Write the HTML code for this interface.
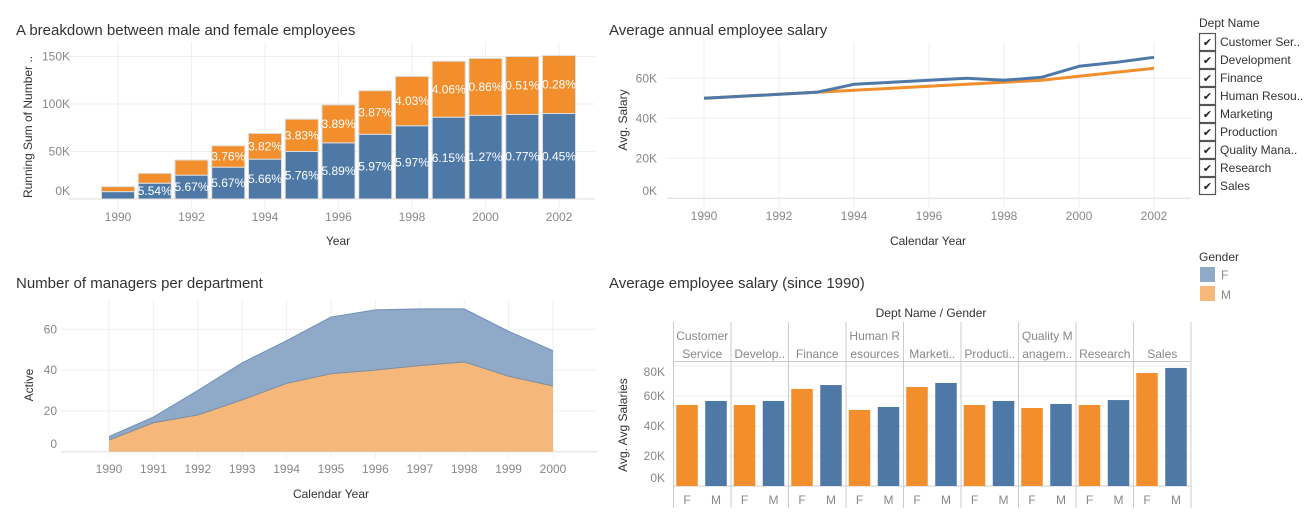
<!DOCTYPE html>
<html><head><meta charset="utf-8"><style>
html,body{margin:0;padding:0;background:#fff;}
svg{display:block;font-family:"Liberation Sans",sans-serif;}
</style></head><body>
<svg id="dash" width="1315" height="520" viewBox="0 0 1315 520" xmlns="http://www.w3.org/2000/svg"></svg>
<script>
// Chart 1 data
const barYears=[1990,1991,1992,1993,1994,1995,1996,1997,1998,1999,2000,2001,2002];
const barTotal=[13,27,41,56,69,84,99,114,129,145,148,150,151];
const barBlue=[7.7,16.5,25,33.4,41.8,50,59,68,77,86,88,89,90];
const blueLabels=['','5.54%','5.67%','5.67%','5.66%','5.76%','5.89%','5.97%','5.97%','6.15%','1.27%','0.77%','0.45%'];
const orangeLabels=['','','','3.76%','3.82%','3.83%','3.89%','3.87%','4.03%','4.06%','0.86%','0.51%','0.28%'];
const barTicks=[0,50,100,150];
// Chart 2 data
const lineYears=[1990,1991,1992,1993,1994,1995,1996,1997,1998,1999,2000,2001,2002];
const lineBlue=[50,51,52,53,57,58,59,60,59,60.5,66,68,70.5];
const lineOrange=[50,51,52,53,54,55,56,57,58,59,61,63,65];
const lineTicks=[0,20,40,60];
const lineYearTicks=[1990,1992,1994,1996,1998,2000,2002];
// Chart 3 data
const areaYears=[1990,1991,1992,1993,1994,1995,1996,1997,1998,1999,2000];
const areaTotal=[7.4,17,30,43.6,54.4,66,69.5,70,70,59,49.5];
const areaOrange=[5.7,14.2,18,25.4,33.5,38.2,40,42.2,44,37,32.2];
const areaTicks=[0,20,40,60];
// Chart 4 data
const depts=[['Customer','Service'],['','Develop..'],['','Finance'],['Human R','esources'],['','Marketi..'],['','Producti..'],['Quality M','anagem..'],['','Research'],['','Sales']];
const salF=[54,54,64.7,50.7,66,54,52,54,75.3];
const salM=[56.7,56.7,67.3,52.7,68.7,56.7,54.7,57.3,78.7];
const salTicks=[0,20,40,60,80];
// Legend
const deptLegend=['Customer Ser..','Development','Finance','Human Resou..','Marketing','Production','Quality Mana..','Research','Sales'];

const svg=document.getElementById('dash');
const NS='http://www.w3.org/2000/svg';
function mk(tag,attrs,text){const e=document.createElementNS(NS,tag);for(const k in attrs)e.setAttribute(k,attrs[k]);if(text!==undefined)e.textContent=text;svg.appendChild(e);return e;}
let el;
const BLUE='#4e79a7',ORANGE='#f28e2b',GRID='#efefef',TICK='#888',DARK='#333';

// ===== Chart 1 =====
const x1=y=>118+(y-1990)*36.75, y1=v=>199-v*0.95;
el=mk('text',{x:16,y:35,'font-size':15,fill:DARK},'A breakdown between male and female employees');


barTicks.forEach(t=>{
 el=mk('line',{x1:68,x2:595,y1:y1(t),y2:y1(t),stroke:t===0?'#ddd':GRID});
 
 
 el=mk('text',{x:70,y:t===0?195:y1(t)+4,'font-size':12,fill:TICK,'text-anchor':'end'},t+'K');
 
 
});
barYears.forEach((yr,i)=>{
 if(yr%2===0){
  el=mk('line',{x1:x1(yr),x2:x1(yr),y1:42,y2:207,stroke:GRID});
  
  
  el=mk('text',{x:x1(yr),y:221,'font-size':12,fill:TICK,'text-anchor':'middle'},String(yr));
  
  
 }
});
barYears.forEach((yr,i)=>{
 const cx=x1(yr),w=33;
 el=mk('rect',{x:cx-w/2,y:y1(barTotal[i]),width:w,height:y1(barBlue[i])-y1(barTotal[i]),fill:ORANGE,stroke:'#ddd','stroke-width':1});
 
 
 el=mk('rect',{x:cx-w/2,y:y1(barBlue[i]),width:w,height:y1(0)-y1(barBlue[i]),fill:BLUE,stroke:'#ddd','stroke-width':1});
 
 
 if(blueLabels[i]){
  el=mk('text',{x:cx,y:(y1(barBlue[i])+y1(0))/2+4,'font-size':12,fill:'#fff','text-anchor':'middle'},blueLabels[i]);
  
  
 }
 if(orangeLabels[i]){
  el=mk('text',{x:cx,y:(y1(barBlue[i])+y1(barTotal[i]))/2+4,'font-size':12,fill:'#fff','text-anchor':'middle'},orangeLabels[i]);
  
  
 }
});
el=mk('text',{x:0,y:0,'font-size':12,fill:DARK,'text-anchor':'middle',transform:'translate(32,127) rotate(-90)'},'Running Sum of Number ..');


el=mk('text',{x:338,y:245,'font-size':12,fill:DARK,'text-anchor':'middle'},'Year');



// ===== Chart 2 =====
const x2=y=>704+(y-1990)*37.5, y2=v=>198.3-v*2;
el=mk('text',{x:609,y:35,'font-size':15,fill:DARK},'Average annual employee salary');


lineTicks.forEach(t=>{
 el=mk('line',{x1:667,x2:1191,y1:y2(t),y2:y2(t),stroke:t===0?'#ddd':GRID});
 
 
 el=mk('text',{x:657,y:t===0?195:y2(t)+4,'font-size':12,fill:TICK,'text-anchor':'end'},t+'K');
 
 
});
lineYearTicks.forEach(yr=>{
 el=mk('line',{x1:x2(yr),x2:x2(yr),y1:42,y2:207,stroke:GRID});
 
 
 el=mk('text',{x:x2(yr),y:220,'font-size':12,fill:TICK,'text-anchor':'middle'},String(yr));
 
 
});
el=mk('polyline',{points:lineYears.map((yr,i)=>x2(yr)+','+y2(lineOrange[i])).join(' '),fill:'none',stroke:ORANGE,'stroke-width':3,'stroke-linejoin':'round'});


el=mk('polyline',{points:lineYears.map((yr,i)=>x2(yr)+','+y2(lineBlue[i])).join(' '),fill:'none',stroke:BLUE,'stroke-width':3,'stroke-linejoin':'round'});


el=mk('text',{x:0,y:0,'font-size':12,fill:DARK,'text-anchor':'middle',transform:'translate(627,120) rotate(-90)'},'Avg. Salary');


el=mk('text',{x:928,y:245,'font-size':12,fill:DARK,'text-anchor':'middle'},'Calendar Year');



// ===== Legends =====
el=mk('text',{x:1199,y:27,'font-size':12,fill:DARK},'Dept Name');


deptLegend.forEach((d,i)=>{
 const yy=33+i*18;
 el=mk('rect',{x:1199.5,y:yy+0.5,width:16,height:17,fill:'#fff',stroke:'#555','stroke-width':1.2});
 
 
 el=mk('text',{x:1207.5,y:yy+13,'font-size':11,fill:'#222','text-anchor':'middle'},'✔');
 
 
 el=mk('text',{x:1220,y:yy+13,'font-size':12,fill:DARK},d);
 
 
});
el=mk('text',{x:1199,y:261,'font-size':12,fill:DARK},'Gender');


el=mk('rect',{x:1200,y:267,width:15,height:15,fill:'#8fa9c8'});


el=mk('text',{x:1221,y:279,'font-size':12,fill:TICK},'F');


el=mk('rect',{x:1200,y:286,width:15,height:15,fill:'#f5b77a'});


el=mk('text',{x:1221,y:299,'font-size':12,fill:TICK},'M');



// ===== Chart 3 =====
const x3=y=>109+(y-1990)*44.4, y3=v=>451.7-v*2.04;
el=mk('text',{x:16,y:288,'font-size':15,fill:DARK},'Number of managers per department');


areaTicks.forEach(t=>{
 el=mk('line',{x1:61,x2:597,y1:y3(t),y2:y3(t),stroke:t===0?'#ddd':GRID});
 
 
 el=mk('text',{x:57,y:t===0?448:y3(t)+4,'font-size':12,fill:TICK,'text-anchor':'end'},String(t));
 
 
});
areaYears.forEach(yr=>{
 el=mk('line',{x1:x3(yr),x2:x3(yr),y1:300,y2:458,stroke:GRID});
 
 
 el=mk('text',{x:x3(yr),y:473,'font-size':12,fill:TICK,'text-anchor':'middle'},String(yr));
 
 
});
const n3=areaYears.length;
let topPts=areaYears.map((yr,i)=>x3(yr)+','+y3(areaTotal[i]));
let midPts=areaYears.map((yr,i)=>x3(yr)+','+y3(areaOrange[i]));
el=mk('polygon',{points:topPts.concat(midPts.slice().reverse()).join(' '),fill:'#8fa9c8',stroke:'none'});


el=mk('polygon',{points:midPts.concat([x3(areaYears[n3-1])+','+y3(0),x3(areaYears[0])+','+y3(0)]).join(' '),fill:'#f5b77a',stroke:'none'});


el=mk('polyline',{points:topPts.join(' '),fill:'none',stroke:'#6f8fb5','stroke-width':1});


el=mk('polyline',{points:midPts.join(' '),fill:'none',stroke:'#7f8ea0','stroke-width':1});


el=mk('text',{x:0,y:0,'font-size':12,fill:DARK,'text-anchor':'middle',transform:'translate(33,385) rotate(-90)'},'Active');


el=mk('text',{x:331,y:498,'font-size':12,fill:DARK,'text-anchor':'middle'},'Calendar Year');



// ===== Chart 4 =====
const cw=57.5, cx0=673.5, y4=v=>486-v*1.5;
el=mk('text',{x:609,y:288,'font-size':15,fill:DARK},'Average employee salary (since 1990)');


el=mk('text',{x:931,y:317,'font-size':12,fill:DARK,'text-anchor':'middle'},'Dept Name  /  Gender');


salTicks.forEach(t=>{
 el=mk('line',{x1:673.5,x2:1191,y1:y4(t),y2:y4(t),stroke:t===0?'#ccc':GRID});
 
 
 el=mk('text',{x:665,y:t===0?482:(t===80?376:y4(t)+4),'font-size':12,fill:TICK,'text-anchor':'end'},t+'K');
 
 
});
el=mk('line',{x1:673.5,x2:1191,y1:361.5,y2:361.5,stroke:'#ccc'});


for(let i=0;i<=depts.length;i++){
 el=mk('line',{x1:cx0+i*cw,x2:cx0+i*cw,y1:322,y2:508,stroke:'#ccc'});
 
 
}
depts.forEach((d,i)=>{
 const c=cx0+i*cw+cw/2;
 if(d[0]){
  el=mk('text',{x:c,y:340,'font-size':12,fill:TICK,'text-anchor':'middle'},d[0]);
  
  
 }
 el=mk('text',{x:c,y:358,'font-size':12,fill:TICK,'text-anchor':'middle'},d[1]);
 
 
 const fx=cx0+i*cw+13.5, mx=cx0+i*cw+42.5, bw=21.5;
 el=mk('rect',{x:fx-bw/2,y:y4(salF[i]),width:bw,height:y4(0)-y4(salF[i]),fill:ORANGE});
 
 
 el=mk('rect',{x:mx-bw/2,y:y4(salM[i]),width:bw,height:y4(0)-y4(salM[i]),fill:BLUE});
 
 
 el=mk('text',{x:fx,y:504,'font-size':12,fill:TICK,'text-anchor':'middle'},'F');
 
 
 el=mk('text',{x:mx,y:504,'font-size':12,fill:TICK,'text-anchor':'middle'},'M');
 
 
});
el=mk('text',{x:0,y:0,'font-size':12,fill:DARK,'text-anchor':'middle',transform:'translate(627,425) rotate(-90)'},'Avg. Avg Salaries');


</script>
</body></html>
